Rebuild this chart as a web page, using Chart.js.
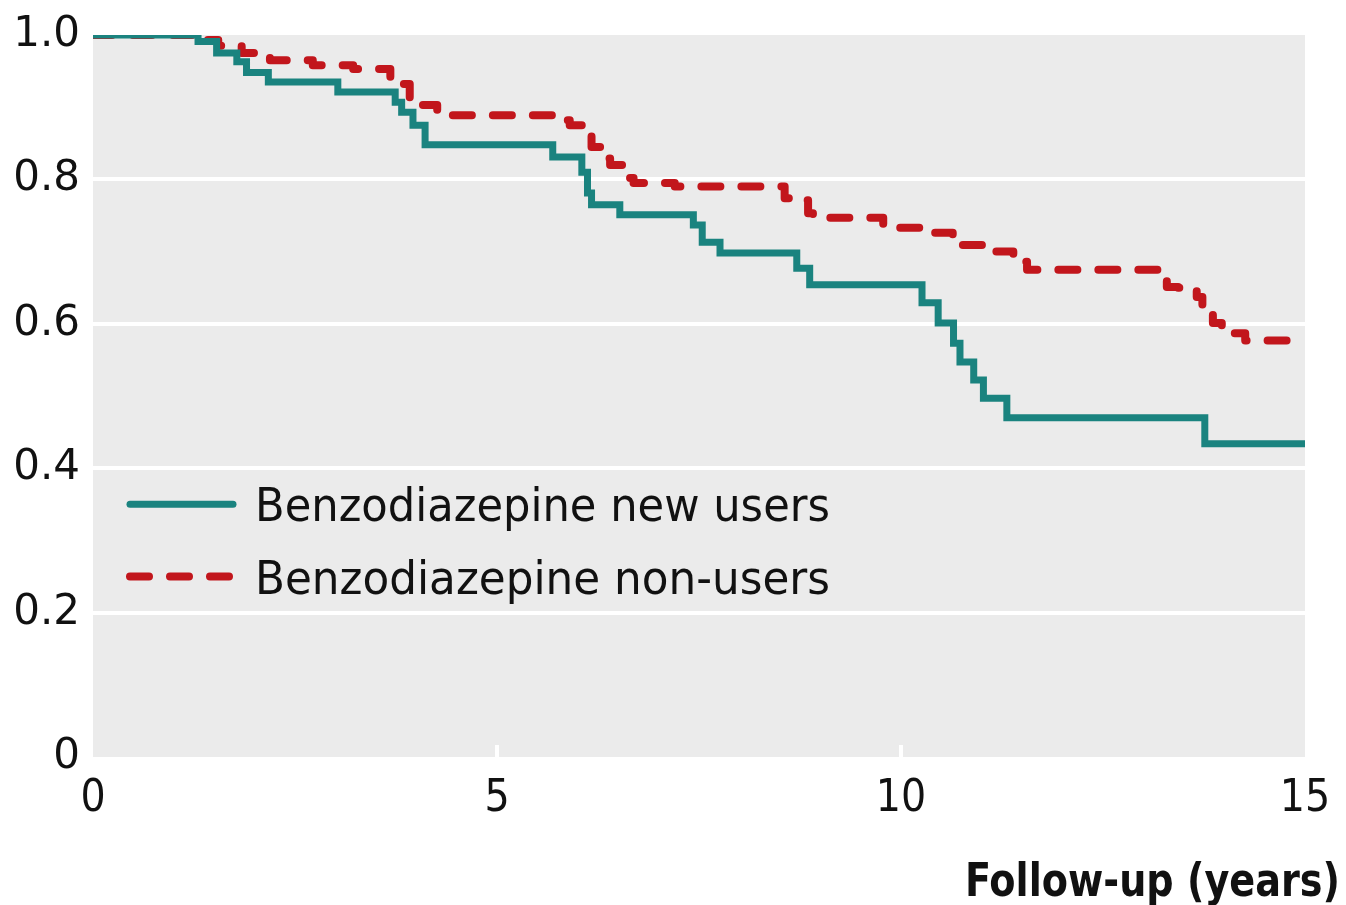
<!DOCTYPE html>
<html>
<head>
<meta charset="utf-8">
<script src="https://cdn.jsdelivr.net/npm/chart.js@4.4.1/dist/chart.umd.min.js"></script>
<style>
html,body{margin:0;padding:0;background:#fff;}
#wrap{width:1346px;height:905px;}
</style>
</head>
<body>
<div id="wrap"><canvas id="c" width="1346" height="905"></canvas></div>
<script>
// ---- data ----
const seriesLabels = ["Benzodiazepine new users", "Benzodiazepine non-users"];
const axisTitle = "Follow-up (years)";
const xTicks = [0, 5, 10, 15];
const yTicks = [0, 0.2, 0.4, 0.6, 0.8, 1.0];

const newUsersTime = [0, 1.30, 1.53, 1.78, 1.90, 2.17, 3.03, 3.74, 3.82, 3.96, 4.11, 5.69, 6.05, 6.12, 6.17, 6.52, 7.43, 7.54, 7.76, 8.71, 8.87, 10.26, 10.46, 10.65, 10.73, 10.90, 11.02, 11.31, 13.76, 15.0];
const newUsersSurv = [1.0, 0.991, 0.975, 0.963, 0.948, 0.935, 0.921, 0.907, 0.893, 0.875, 0.848, 0.831, 0.810, 0.781, 0.765, 0.751, 0.737, 0.713, 0.698, 0.677, 0.654, 0.629, 0.601, 0.573, 0.547, 0.522, 0.497, 0.470, 0.434, 0.434];

const nonUsersTime = [0, 1.38, 1.55, 1.84, 2.19, 2.72, 3.22, 3.68, 3.76, 3.92, 4.00, 4.26, 5.72, 5.90, 6.07, 6.17, 6.32, 6.40, 6.60, 6.69, 7.20, 8.56, 8.62, 8.85, 8.91, 9.78, 10.27, 10.64, 10.75, 11.10, 11.18, 11.39, 11.56, 13.29, 13.43, 13.66, 13.73, 13.86, 13.97, 14.26, 15.0];
const nonUsersSurv = [1.0, 0.993, 0.985, 0.975, 0.965, 0.958, 0.953, 0.942, 0.932, 0.910, 0.903, 0.889, 0.882, 0.875, 0.861, 0.845, 0.829, 0.820, 0.802, 0.795, 0.790, 0.774, 0.771, 0.753, 0.747, 0.733, 0.726, 0.716, 0.709, 0.705, 0.700, 0.686, 0.675, 0.651, 0.650, 0.637, 0.617, 0.601, 0.587, 0.577, 0.577];

// ---- styles ----
const TEAL = '#1a837f';
const RED = '#c2161c';
const PANEL = '#ebebeb';

function pts(t, s){ return t.map((x,i)=>({x:x, y:s[i]})); }

const panelPlugin = {
  id:'panel',
  beforeDraw(chart){
    const {ctx, chartArea:a} = chart;
    ctx.save();
    ctx.fillStyle = PANEL;
    ctx.fillRect(a.left, a.top, a.right-a.left, a.bottom-a.top);
    ctx.restore();
  },
  beforeDatasetsDraw(chart){
    const {ctx, chartArea:a, scales} = chart;
    ctx.save();
    ctx.strokeStyle = '#ffffff';
    ctx.lineWidth = 4;
    xTicks.forEach(v=>{
      if (v===xTicks[0] || v===xTicks[xTicks.length-1]) return;
      const px = scales.x.getPixelForValue(v);
      ctx.beginPath();
      ctx.moveTo(px, a.bottom-12);
      ctx.lineTo(px, a.bottom);
      ctx.stroke();
    });
    ctx.restore();
  },
  afterDraw(chart){
    const {ctx, chartArea:a, scales} = chart;
    const rows = [0.35, 0.25];
    ctx.save();
    chart.data.datasets.forEach((ds,i)=>{
      const y = scales.y.getPixelForValue(rows[i]);
      ctx.strokeStyle = ds.borderColor;
      ctx.lineWidth = ds.borderWidth;
      ctx.lineCap = 'round';
      ctx.setLineDash(ds.borderDash || []);
      ctx.beginPath();
      ctx.moveTo(a.left+37, y);
      ctx.lineTo(a.left+140, y);
      ctx.stroke();
      ctx.setLineDash([]);
      ctx.fillStyle = '#111';
      ctx.font = '46px "DejaVu Sans Condensed", "DejaVu Sans", sans-serif';
      ctx.textBaseline = 'alphabetic';
      ctx.textAlign = 'left';
      const targetW = 575;
      const w = ctx.measureText(ds.label).width;
      ctx.save();
      ctx.translate(a.left+162, y+17);
      ctx.scale(targetW/w, 1);
      ctx.fillText(ds.label, 0, 0);
      ctx.restore();
    });
    // axis title
    ctx.font = 'bold 46px "DejaVu Sans Condensed", "DejaVu Sans", sans-serif';
    ctx.fillStyle = '#111';
    ctx.textAlign = 'right';
    ctx.textBaseline = 'alphabetic';
    const tw = ctx.measureText(axisTitle).width;
    ctx.save();
    ctx.translate(chart.width-6, 896);
    ctx.scale(375/tw, 1);
    ctx.fillText(axisTitle, 0, 0);
    ctx.restore();
    ctx.restore();
  }
};

new Chart(document.getElementById('c'), {
  type:'line',
  data:{
    datasets:[
      {label:seriesLabels[0], data:pts(newUsersTime,newUsersSurv), borderColor:TEAL, borderWidth:7, stepped:'before', pointRadius:0, fill:false, borderCapStyle:'round', borderJoinStyle:'miter', order:1},
      {label:seriesLabels[1], data:pts(nonUsersTime,nonUsersSurv), borderColor:RED, borderWidth:8, borderDash:[19,21], stepped:'before', pointRadius:0, fill:false, borderCapStyle:'round', borderJoinStyle:'round', order:2}
    ]
  },
  options:{
    responsive:false,
    devicePixelRatio:1,
    animation:false,
    layout:{padding:{top:35, right:41, left:0, bottom:0}},
    plugins:{legend:{display:false}, title:{display:false}, tooltip:{enabled:false}},
    scales:{
      x:{
        type:'linear', min:0, max:15,
        afterBuildTicks(s){ s.ticks = xTicks.map(v=>({value:v})); },
        afterFit(s){ s.height = 148; s.paddingLeft = 0; s.paddingRight = 0; },
        grid:{display:false, drawTicks:false},
        border:{display:false},
        ticks:{padding:16, color:'#111', font:{family:'"DejaVu Sans Condensed", "DejaVu Sans", sans-serif', size:44}, maxRotation:0, autoSkip:false}
      },
      y:{
        type:'linear', min:0, max:1,
        afterBuildTicks(s){ s.ticks = yTicks.map(v=>({value:v})); },
        afterFit(s){ s.width = 93; s.paddingTop = 0; s.paddingBottom = 0; },
        grid:{drawTicks:false, lineWidth:4, color:(c)=> (c.tick && (c.tick.value===0 || c.tick.value===1)) ? 'rgba(0,0,0,0)' : '#ffffff'},
        border:{display:false},
        ticks:{padding:13, color:'#111', font:{family:'"DejaVu Sans", sans-serif', size:42},
          callback:(v)=> v===0 ? '0' : Number(v).toFixed(1)}
      }
    }
  },
  plugins:[panelPlugin]
});
</script>
</body>
</html>
